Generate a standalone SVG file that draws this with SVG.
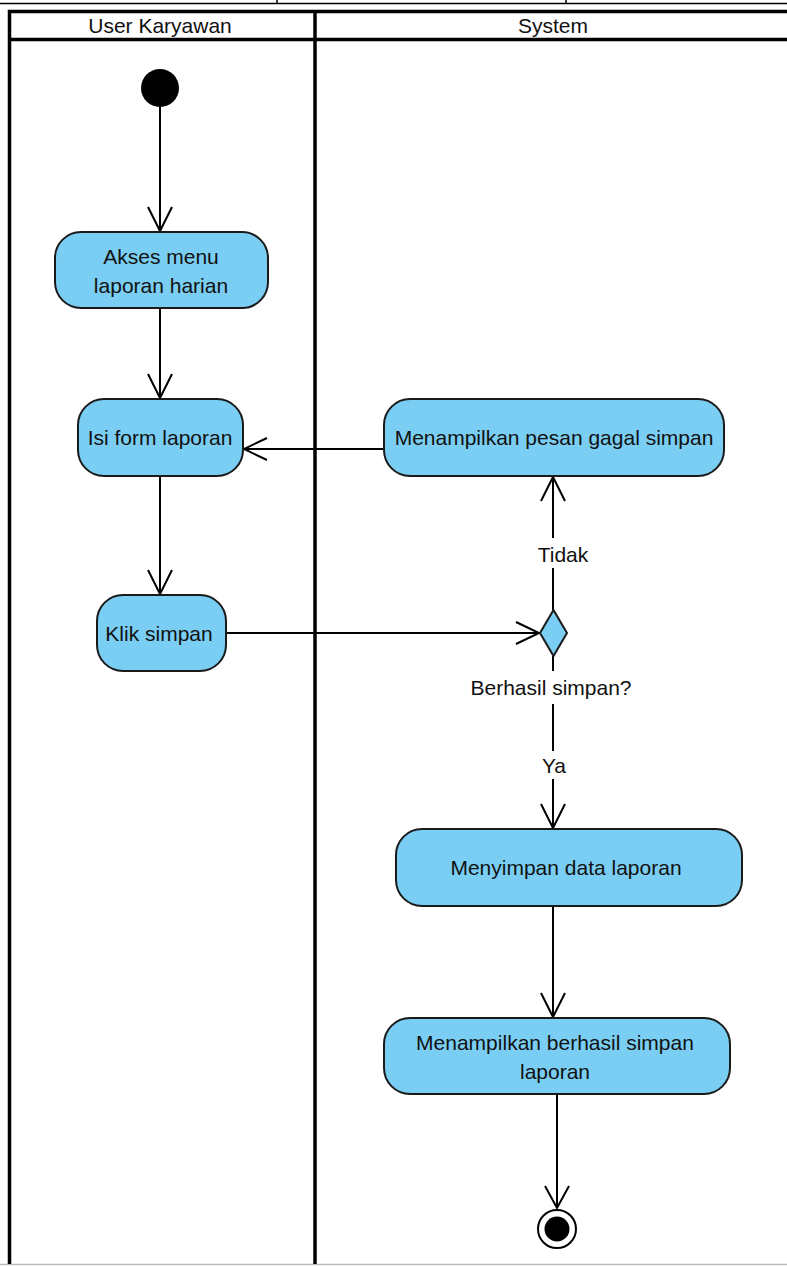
<svg xmlns="http://www.w3.org/2000/svg" width="787" height="1266" viewBox="0 0 787 1266">
<style>
.lane{stroke:#000;stroke-width:3.5;fill:none}
.box{fill:#7ACEF4;stroke:#1a1a1a;stroke-width:2}
.t{font-family:"Liberation Sans",Arial,sans-serif;font-size:21px;fill:#111;text-anchor:middle}
.h{font-family:"Liberation Sans",Arial,sans-serif;font-size:21px;fill:#111;text-anchor:middle}
.c{stroke:#000;stroke-width:2;fill:none}
</style>
<rect x="0" y="0" width="787" height="1266" fill="#fff"/>
<g id="frame">
<line x1="0" y1="3.5" x2="787" y2="3.5" stroke="#000" stroke-width="1.5"/>
<line x1="277" y1="0" x2="277" y2="4" stroke="#000" stroke-width="1.5"/>
<line x1="566" y1="0" x2="566" y2="4" stroke="#000" stroke-width="1.5"/>
<line x1="0" y1="1264.5" x2="787" y2="1264.5" stroke="#bbb" stroke-width="1.5"/>
<polyline class="lane" points="787,11.5 9.5,11.5 9.5,1264"/>
<line class="lane" x1="9.5" y1="39.5" x2="787" y2="39.5"/>
<line class="lane" x1="315" y1="11.5" x2="315" y2="1264"/>
<text class="h" x="160" y="33">User Karyawan</text>
<text class="h" x="553" y="33">System</text>
</g>
<g id="connectors" class="c">
<path d="M160,107 V231 M148,207 L160,231 L172,207"/>
<path d="M160,308 V398 M148,374 L160,398 L172,374"/>
<path d="M160,476 V594 M148,570 L160,594 L172,570"/>
<path d="M226,633 H539 M516,622 L539,633 L516,644"/>
<path d="M553,610 V568 M553,538 V477 M541,501 L553,477 L565,501"/>
<path d="M553,656 V671 M553,704 V751 M553,779 V828 M541,804 L553,828 L565,804"/>
<path d="M384,449 H244 M267,438 L244,449 L267,460"/>
<path d="M553,907 V1017 M541,993 L553,1017 L565,993"/>
<path d="M557,1094 V1208 M545,1186 L557,1208 L569,1186"/>
</g>
<g id="start"><circle cx="160" cy="88" r="19" fill="#000"/></g>
<g id="akses"><rect class="box" x="55" y="232" width="213" height="76" rx="26"/>
<text class="t" x="161" y="264">Akses menu</text><text class="t" x="161" y="293">laporan harian</text></g>
<g id="isiform"><rect class="box" x="78" y="399" width="165" height="77" rx="26"/>
<text class="t" x="160" y="445">Isi form laporan</text></g>
<g id="klik"><rect class="box" x="97" y="595" width="129" height="76" rx="26"/>
<text class="t" x="159" y="641">Klik simpan</text></g>
<g id="gagal"><rect class="box" x="384" y="399" width="340" height="77" rx="26"/>
<text class="t" x="554" y="445">Menampilkan pesan gagal simpan</text></g>
<g id="decision"><polygon class="box" points="553.5,610 567,633 553.5,656 540,633"/>
<text class="t" x="563" y="562">Tidak</text>
<text class="t" x="551" y="695">Berhasil simpan?</text>
<text class="t" x="554" y="773">Ya</text></g>
<g id="menyimpan"><rect class="box" x="396" y="829" width="346" height="77" rx="26"/>
<text class="t" x="566" y="875">Menyimpan data laporan</text></g>
<g id="berhasil"><rect class="box" x="384" y="1018" width="346" height="76" rx="26"/>
<text class="t" x="555" y="1050">Menampilkan berhasil simpan</text><text class="t" x="555" y="1079">laporan</text></g>
<g id="end"><circle cx="557" cy="1229" r="19" fill="#fff" stroke="#000" stroke-width="2"/><circle cx="557" cy="1229" r="12.5" fill="#000"/></g>
</svg>
